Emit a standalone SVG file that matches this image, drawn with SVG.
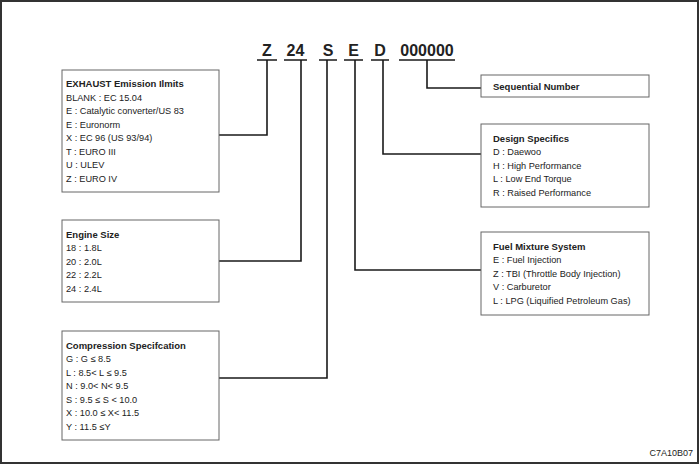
<svg xmlns="http://www.w3.org/2000/svg" width="700" height="467" viewBox="0 0 700 467">
<style>
text{font-family:"Liberation Sans",Arial,sans-serif;fill:#222}
.t{font-size:9.5px;font-weight:bold}
.b{font-size:9.2px}
.code{font-size:16px;font-weight:bold;text-anchor:middle}
.box{fill:#fff;stroke:#666;stroke-width:1}
.ln{fill:none;stroke:#1a1a1a;stroke-width:1.6}
</style>
<rect x="1" y="1" width="697" height="462" fill="#fff" stroke="#333" stroke-width="2"/>
<g id="code">
<text class="code" x="267" y="56">Z</text>
<text class="code" x="295.5" y="56">24</text>
<text class="code" x="328" y="56">S</text>
<text class="code" x="353.5" y="56">E</text>
<text class="code" x="380" y="56">D</text>
<text class="code" x="427" y="56">000000</text>
</g>
<g id="connectors" class="ln">
<path d="M257 60H277M284 60H307M319 60H337M344 60H363M371 60H389M399 60H455"/>
<path d="M267 60V135H219"/>
<path d="M301 60V261H219"/>
<path d="M327 60V378H219"/>
<path d="M355 60V270H481"/>
<path d="M383 60V154H481"/>
<path d="M427 60V88H481"/>
</g>
<g id="exhaust">
<rect class="box" x="62" y="70" width="157" height="122"/>
<text class="t" x="66" y="87">EXHAUST Emission Ilmits</text>
<text class="b" x="66" y="100.5">BLANK : EC 15.04</text>
<text class="b" x="66" y="114">E : Catalytic converter/US 83</text>
<text class="b" x="66" y="127.5">E : Euronorm</text>
<text class="b" x="66" y="141">X : EC 96 (US 93/94)</text>
<text class="b" x="66" y="154.5">T : EURO III</text>
<text class="b" x="66" y="168">U : ULEV</text>
<text class="b" x="66" y="181.5">Z : EURO IV</text>
</g>
<g id="engine">
<rect class="box" x="62" y="220" width="157" height="82"/>
<text class="t" x="66" y="237.5">Engine Size</text>
<text class="b" x="66" y="251">18 : 1.8L</text>
<text class="b" x="66" y="264.5">20 : 2.0L</text>
<text class="b" x="66" y="278">22 : 2.2L</text>
<text class="b" x="66" y="291.5">24 : 2.4L</text>
</g>
<g id="compression">
<rect class="box" x="62" y="331" width="157" height="109"/>
<text class="t" x="66" y="348.5">Compression Specifcation</text>
<text class="b" x="66" y="362">G : G ≤ 8.5</text>
<text class="b" x="66" y="375.5">L : 8.5&lt; L ≤ 9.5</text>
<text class="b" x="66" y="389">N : 9.0&lt; N&lt; 9.5</text>
<text class="b" x="66" y="402.5">S : 9.5 ≤ S &lt; 10.0</text>
<text class="b" x="66" y="416">X : 10.0 ≤ X&lt; 11.5</text>
<text class="b" x="66" y="429.5">Y : 11.5 ≤Y</text>
</g>
<g id="sequential">
<rect class="box" x="481" y="75" width="168" height="22"/>
<text class="t" x="493" y="90">Sequential Number</text>
</g>
<g id="design">
<rect class="box" x="481" y="124" width="168" height="83"/>
<text class="t" x="493" y="141.5">Design Specifics</text>
<text class="b" x="493" y="155">D : Daewoo</text>
<text class="b" x="493" y="168.5">H : High Performance</text>
<text class="b" x="493" y="182">L : Low End Torque</text>
<text class="b" x="493" y="195.5">R : Raised Performance</text>
</g>
<g id="fuel">
<rect class="box" x="481" y="232" width="168" height="83"/>
<text class="t" x="493" y="249.5">Fuel Mixture System</text>
<text class="b" x="493" y="263">E : Fuel Injection</text>
<text class="b" x="493" y="276.5">Z : TBI (Throttle Body Injection)</text>
<text class="b" x="493" y="290">V : Carburetor</text>
<text class="b" x="493" y="303.5">L : LPG (Liquified Petroleum Gas)</text>
</g>
<text x="693" y="456" font-size="9" text-anchor="end">C7A10B07</text>
</svg>
